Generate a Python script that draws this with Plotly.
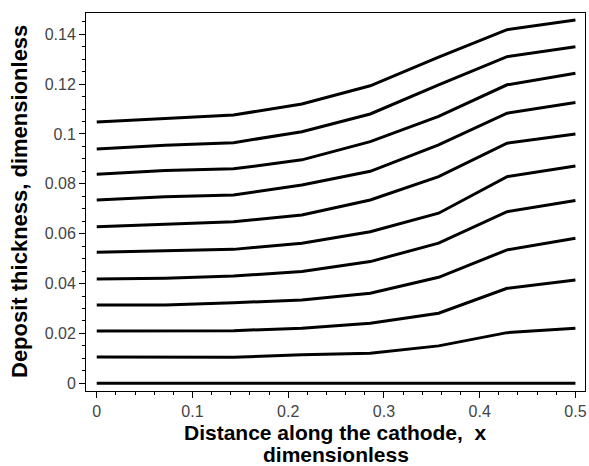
import plotly.graph_objects as go

x_vals = [0.0, 0.0714, 0.1429, 0.2143, 0.2857, 0.3571, 0.4286, 0.5]

c0 = [0.0, 0.0, 0.0, 0.0, 0.0, 0.0, 0.0, 0.0]
c1 = [0.0105, 0.0105, 0.0104, 0.0114, 0.0120, 0.0150, 0.0203, 0.0221]
c2 = [0.0210, 0.0210, 0.0211, 0.0221, 0.0241, 0.0281, 0.0381, 0.0414]
c3 = [0.0314, 0.0314, 0.0323, 0.0334, 0.0361, 0.0425, 0.0535, 0.0582]
c4 = [0.0418, 0.0421, 0.0430, 0.0448, 0.0488, 0.0562, 0.0688, 0.0733]
c5 = [0.0525, 0.0530, 0.0537, 0.0562, 0.0608, 0.0682, 0.0829, 0.0871]
c6 = [0.0628, 0.0639, 0.0648, 0.0675, 0.0735, 0.0829, 0.0963, 0.1000]
c7 = [0.0735, 0.0748, 0.0755, 0.0795, 0.0850, 0.0956, 0.1083, 0.1126]
c8 = [0.0838, 0.0853, 0.0860, 0.0896, 0.0969, 0.1070, 0.1197, 0.1243]
c9 = [0.0940, 0.0955, 0.0965, 0.1009, 0.1080, 0.1197, 0.1310, 0.1350]
c10 = [0.1048, 0.1063, 0.1076, 0.1120, 0.1193, 0.1308, 0.1418, 0.1457]

curves = [c0, c1, c2, c3, c4, c5, c6, c7, c8, c9, c10]

x_tick_vals = [0, 0.1, 0.2, 0.3, 0.4, 0.5]
x_tick_text = ["0", "0.1", "0.2", "0.3", "0.4", "0.5"]
y_tick_vals = [0, 0.02, 0.04, 0.06, 0.08, 0.1, 0.12, 0.14]
y_tick_text = ["0", "0.02", "0.04", "0.06", "0.08", "0.1", "0.12", "0.14"]

x_title_1 = "Distance along the cathode,  x"
x_title_2 = "dimensionless"
y_title = "Deposit thickness, dimensionless"

fig = go.Figure()
for c in curves:
    fig.add_trace(go.Scatter(x=x_vals, y=c, mode="lines",
                             line=dict(color="black", width=3),
                             showlegend=False, hoverinfo="skip"))

tick_font = dict(family="Liberation Sans, Arial, sans-serif", size=16, color="#444444")
x_title_font = dict(family="Liberation Sans, Arial, sans-serif", size=21, color="black")
y_title_font = dict(family="Liberation Sans, Arial, sans-serif", size=22, color="black")

fig.update_layout(
    width=589, height=466,
    margin=dict(l=86, r=4, t=13, b=75, autoexpand=False),
    paper_bgcolor="white", plot_bgcolor="white",
    xaxis=dict(
        range=[-0.0112, 0.510], automargin=False,
        tickvals=x_tick_vals, ticktext=x_tick_text,
        ticks="outside", ticklen=6, tickwidth=1, tickcolor="black",
        minor=dict(dtick=0.02, tick0=0, ticks="outside", ticklen=3, tickcolor="black"),
        showline=True, linecolor="black", linewidth=1, mirror=True,
        showgrid=False, zeroline=False,
        tickfont=tick_font,
    ),
    yaxis=dict(
        range=[-0.0031, 0.1485], automargin=False,
        tickvals=y_tick_vals, ticktext=y_tick_text,
        ticks="outside", ticklen=6, tickwidth=1, tickcolor="black",
        minor=dict(dtick=0.005, tick0=0, ticks="outside", ticklen=3, tickcolor="black"),
        showline=True, linecolor="black", linewidth=1, mirror=True,
        showgrid=False, zeroline=False,
        tickfont=tick_font,
    ),
)

fig.add_annotation(text="<b>" + x_title_1 + "</b>", xref="paper", yref="paper",
                   x=0.5, y=0, xanchor="center", yanchor="middle", yshift=-41,
                   showarrow=False, font=x_title_font)
fig.add_annotation(text="<b>" + x_title_2 + "</b>", xref="paper", yref="paper",
                   x=0.5, y=0, xanchor="center", yanchor="middle", yshift=-63,
                   showarrow=False, font=x_title_font)
fig.add_annotation(text="<b>" + y_title + "</b>", xref="paper", yref="paper",
                   x=0, y=0.5, xanchor="center", yanchor="middle", xshift=-67,
                   textangle=-90, showarrow=False, font=y_title_font)

fig.write_html("out.html")
